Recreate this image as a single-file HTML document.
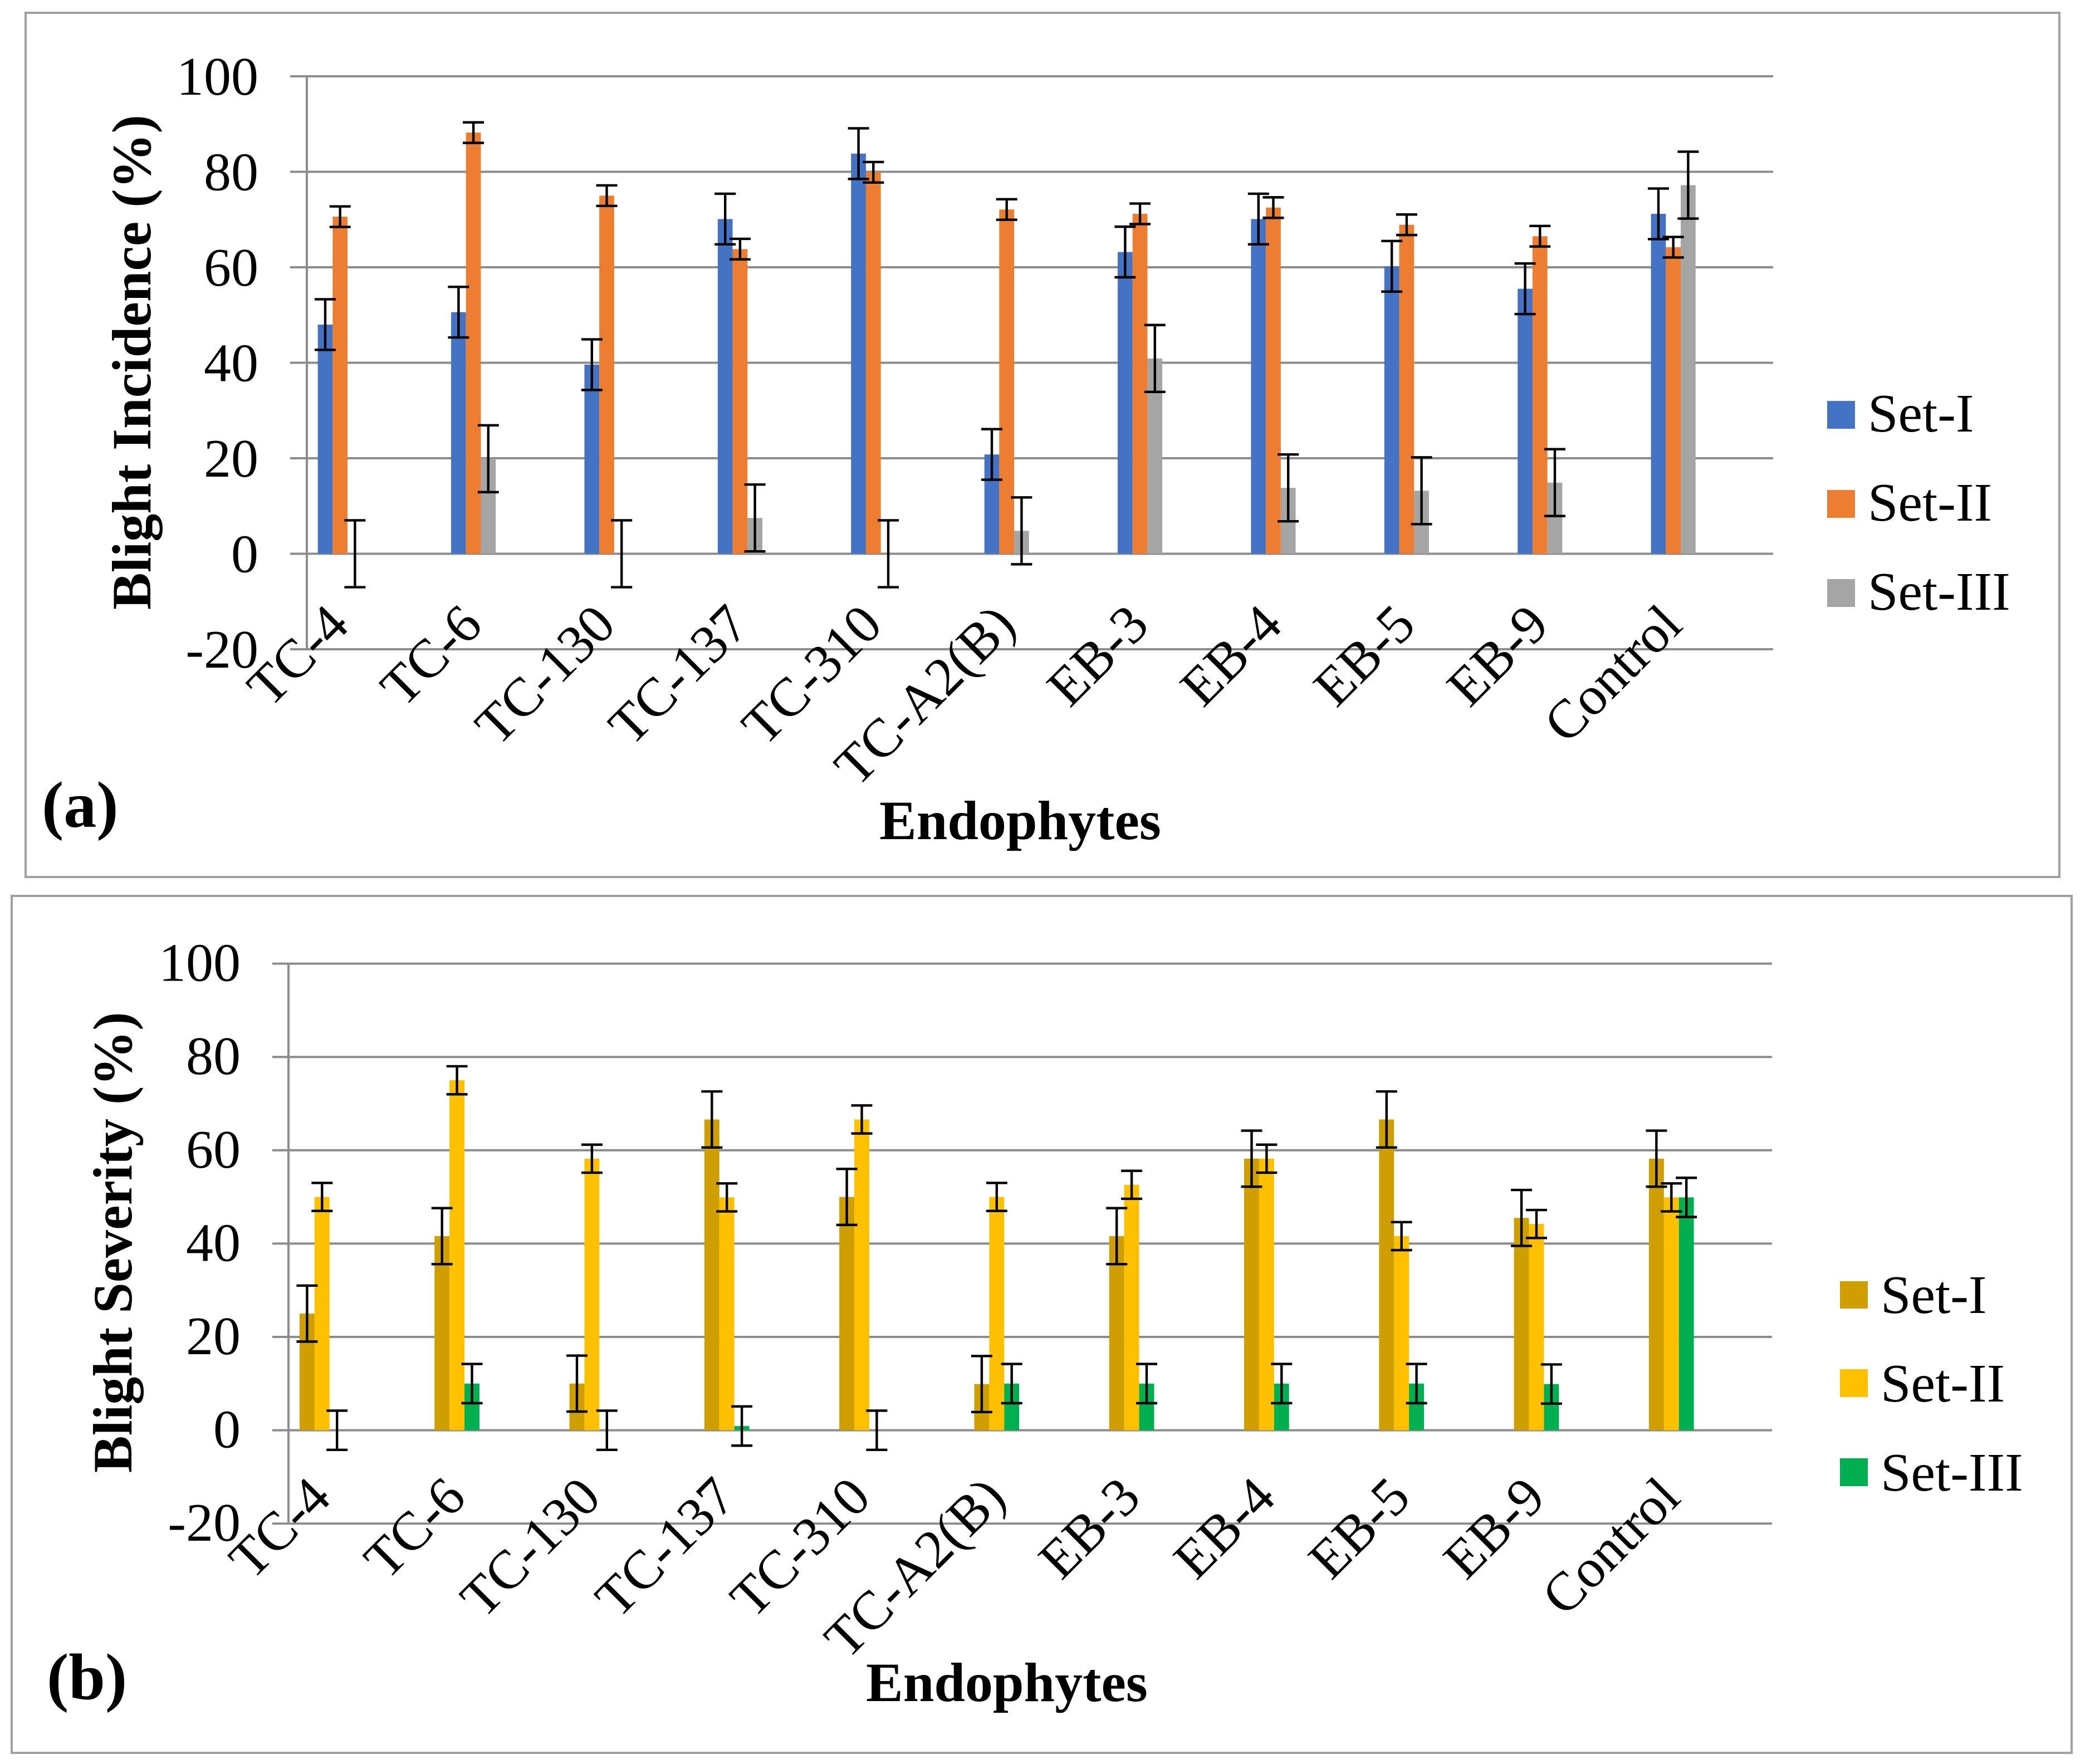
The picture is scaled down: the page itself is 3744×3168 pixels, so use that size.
<!DOCTYPE html>
<html lang="en">
<head>
<meta charset="utf-8">
<title>Blight incidence and severity by endophyte</title>
<style>
html,body{margin:0;padding:0;background:#fff;width:3744px;height:3168px;overflow:hidden}
svg{display:block;font-family:"Liberation Serif","Times New Roman",serif}
</style>
</head>
<body>
<svg id="figure" xmlns="http://www.w3.org/2000/svg" width="3744" height="3168" viewBox="0 0 3744 3168">
  <rect x="0" y="0" width="3744" height="3168" fill="#ffffff"/>
  <rect x="46" y="23" width="3652" height="1552" fill="none" stroke="#a0a0a0" stroke-width="4"/>
  <rect x="21" y="1609" width="3699" height="1539" fill="none" stroke="#a0a0a0" stroke-width="4"/>
  <g id="chart-a"></g>
  <g id="chart-b"></g>

  <text transform="translate(270 1095) rotate(-90)" font-size="100" font-weight="700">Blight Incidence (%)</text>
  <text x="1579" y="1507" font-size="100" font-weight="700">Endophytes</text>
  <text x="75" y="1485" font-size="118" font-weight="700">(a)</text>

  <text transform="translate(236 2645) rotate(-90)" font-size="100" font-weight="700">Blight Severity (%)</text>
  <text x="1555" y="3055" font-size="100" font-weight="700">Endophytes</text>
  <text x="84" y="3051" font-size="118" font-weight="700">(b)</text>

  <g>
    <rect x="3281" y="720" width="50" height="50" fill="#4472C4"/>
    <text x="3354" y="775" font-size="98">Set-I</text>
    <rect x="3281" y="880" width="50" height="50" fill="#ED7D31"/>
    <text x="3354" y="935" font-size="98">Set-II</text>
    <rect x="3281" y="1040" width="50" height="50" fill="#A5A5A5"/>
    <text x="3354" y="1095" font-size="98">Set-III</text>
  </g>
  <g>
    <rect x="3304" y="2301" width="50" height="49" fill="#CF9E00"/>
    <text x="3377" y="2358" font-size="98">Set-I</text>
    <rect x="3304" y="2459" width="50" height="50" fill="#FFC000"/>
    <text x="3377" y="2517" font-size="98">Set-II</text>
    <rect x="3304" y="2619" width="50" height="50" fill="#00B050"/>
    <text x="3377" y="2677" font-size="98">Set-III</text>
  </g>
</svg>
<script>
const categories = ["TC-4","TC-6","TC-130","TC-137","TC-310","TC-A2(B)","EB-3","EB-4","EB-5","EB-9","Control"];
const yTickLabels = [-20,0,20,40,60,80,100];
const seriesNames = ["Set-I","Set-II","Set-III"];

const incidenceSetI   = [48,50.6,39.6,70.1,83.8,20.8,63.2,70.1,60.2,55.5,71.2];
const incidenceSetII  = [70.6,88.2,75,63.8,79.9,72.1,71.2,72.5,68.9,66.5,64.2];
const incidenceSetIII = [0,19.9,0,7.5,0,4.8,40.9,13.8,13.2,14.9,77.2];
const incidenceErrI   = [5.3,5.3,5.3,5.3,5.3,5.3,5.3,5.3,5.3,5.3,5.3];
const incidenceErrII  = [2.15,2.15,2.15,2.15,2.15,2.15,2.15,2.15,2.15,2.15,2.15];
const incidenceErrIII = [7,7,7,7,7,7,7,7,7,7,7];

const severitySetI   = [25,41.6,10,66.6,50,9.9,41.6,58.2,66.6,45.5,58.2];
const severitySetII  = [50,75,58.2,49.9,66.6,50,52.6,58.2,41.6,44.2,49.9];
const severitySetIII = [0,10,0,0.9,0,10,10,10,10,9.9,49.9];
const severityErrI   = [6,6,6,6,6,6,6,6,6,6,6];
const severityErrII  = [3,3,3,3,3,3,3,3,3,3,3];
const severityErrIII = [4.2,4.2,4.2,4.2,4.2,4.2,4.2,4.2,4.2,4.2,4.2];

const SVG_NS = "http://www.w3.org/2000/svg";

function make(parent, tag, attrs) {
  const el = document.createElementNS(SVG_NS, tag);
  for (const k in attrs) el.setAttribute(k, attrs[k]);
  parent.appendChild(el);
  return el;
}

function drawChart(o) {
  const root = document.getElementById(o.id);
  const yScale = function (v) { return o.zeroY - v * o.unit; };
  const xScale = function (c) { return o.firstCenter + c * o.catStep; };
  const barX = function (c, s) { return xScale(c) + (s - 1.5) * o.barWidth; };

  yTickLabels.forEach(function (t) {
    const grid = make(root, "line", {x1: o.tickX, x2: o.rightX, y1: yScale(t), y2: yScale(t), stroke: "#8c8c8c", "stroke-width": 4});
    
    
    const label = make(root, "text", {x: o.labelX, y: yScale(t) + o.labelDy, "text-anchor": "end", "font-size": o.fontSize});
    
    
    label.textContent = t;
  });

  const axis = make(root, "line", {x1: o.axisX, x2: o.axisX, y1: yScale(100), y2: yScale(-20), stroke: "#8c8c8c", "stroke-width": 4});
  
  

  o.values.forEach(function (vals, s) {
    vals.forEach(function (v, c) {
      const bar = make(root, "rect", {x: barX(c, s), y: yScale(v), width: o.barWidth, height: yScale(0) - yScale(v), fill: o.colors[s]});
      
      
    });
  });

  o.values.forEach(function (vals, s) {
    vals.forEach(function (v, c) {
      const cx = barX(c, s) + o.barWidth / 2;
      const hi = yScale(v + o.errors[s][c]);
      const lo = yScale(v - o.errors[s][c]);
      const cap = o.capHalf;
      const err = make(root, "path", {d: "M" + (cx - cap) + " " + hi + "H" + (cx + cap) + "M" + cx + " " + hi + "V" + lo + "M" + (cx - cap) + " " + lo + "H" + (cx + cap), fill: "none", stroke: "#000", "stroke-width": 4.4});
      
      
    });
  });

  categories.forEach(function (name, c) {
    const x = xScale(c) + o.catDx;
    const cat = make(root, "text", {transform: "translate(" + x + " " + o.catY + ") rotate(-45)", "text-anchor": "end", "font-size": o.fontSize});
    
    
    cat.textContent = name;
  });
}

drawChart({
  id: "chart-a", key: "a",
  values: [incidenceSetI, incidenceSetII, incidenceSetIII],
  errors: [incidenceErrI, incidenceErrII, incidenceErrIII],
  colors: ["#4472C4", "#ED7D31", "#A5A5A5"],
  zeroY: 994.5, unit: 8.575, firstCenter: 610.7, catStep: 239.4, barWidth: 26.7,
  axisX: 551, tickX: 521, rightX: 3184, labelX: 464, labelDy: 33,
  fontSize: 98, catDx: 20, catY: 1127, capHalf: 19
});
drawChart({
  id: "chart-b", key: "b",
  values: [severitySetI, severitySetII, severitySetIII],
  errors: [severityErrI, severityErrII, severityErrIII],
  colors: ["#CF9E00", "#FFC000", "#00B050"],
  zeroY: 2568.6, unit: 8.38, firstCenter: 578.3, catStep: 242.3, barWidth: 26.9,
  axisX: 518, tickX: 489, rightX: 3182, labelX: 432, labelDy: 31,
  fontSize: 98, catDx: 20, catY: 2694, capHalf: 19
});
</script>
</body>
</html>
